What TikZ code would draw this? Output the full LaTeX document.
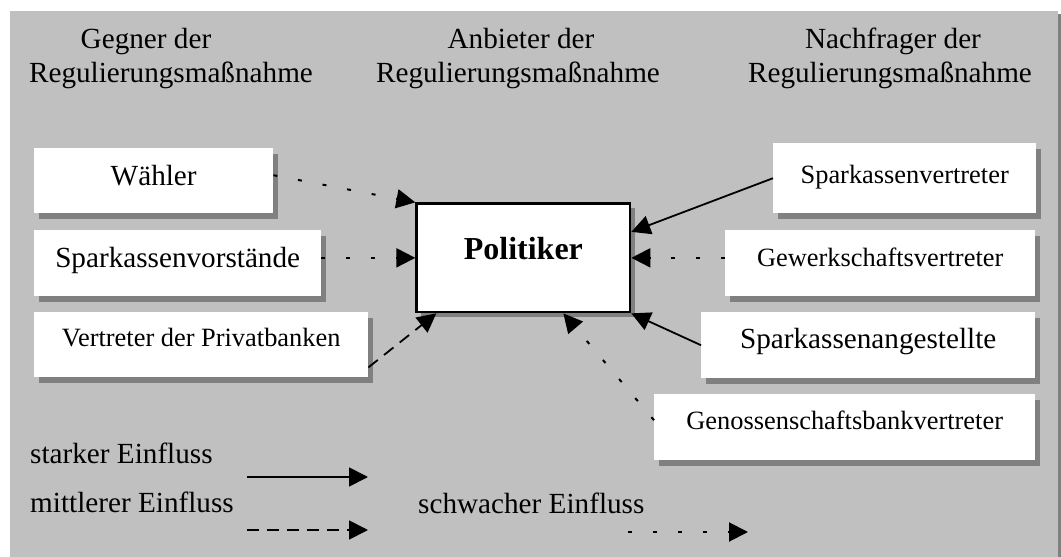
\documentclass[tikz,border=0pt]{standalone}
\usepackage{fontspec}
\setmainfont{Liberation Serif}
\usetikzlibrary{arrows.meta,shadows}
\definecolor{panelgray}{HTML}{C0C0C0}
\definecolor{shadegray}{HTML}{808080}
\newcommand\fsBig{\fontsize{29.2pt}{34pt}\selectfont}
\newcommand\fsSmall{\fontsize{26.4pt}{31pt}\selectfont}
\newcommand\fsBold{\fontsize{32pt}{38pt}\selectfont\bfseries}

\begin{document}
\begin{tikzpicture}[x=1pt,y=-1pt,
  box/.style={anchor=north west, fill=white, inner sep=0pt, align=center,
    drop shadow={shadow xshift=5pt, shadow yshift=-6pt, fill=shadegray, opacity=1}},
  centerbox/.style={anchor=north west, fill=white, draw=black, line width=2.7pt,
    inner sep=0pt, align=center, font=\fsBold,
    drop shadow={shadow xshift=4.5pt, shadow yshift=-4.5pt, fill=shadegray, opacity=1}},
  lbl/.style={inner sep=0pt, font=\fsBig},
  tipshape/.style={-{Triangle[length=19pt,width=19pt]}},
  strong/.style={tipshape, line width=1.8pt},
  medium/.style={tipshape, line width=1.8pt, dash pattern=on 12pt off 8pt},
  weak/.style={tipshape, line width=2pt, dash pattern=on 4pt off 21pt}]

\useasboundingbox (0,0) rectangle (1061,557);

% panel with its thin shadow edge
\fill[shadegray] (13,14) rectangle (1061,560);
\fill[panelgray] (10,11) rectangle (1058,557);

% column headings
\node[lbl, anchor=base] (hdG1) at (146,48) {Gegner der};
\node[lbl, anchor=base] (hdG2) at (171,82) {Regulierungsmaßnahme};
\node[lbl, anchor=base] (hdA1) at (521,48) {Anbieter der};
\node[lbl, anchor=base] (hdA2) at (518,82) {Regulierungsmaßnahme};
\node[lbl, anchor=base] (hdN1) at (893,48) {Nachfrager der};
\node[lbl, anchor=base] (hdN2) at (890,82) {Regulierungsmaßnahme};

% opponents
\node[box, font=\fsBig, minimum width=239pt, text height=37pt, text depth=28pt]
  (waehler) at (34,148) {Wähler};
\node[box, font=\fsBig, minimum width=287pt, text height=37pt, text depth=29pt]
  (vorst) at (34,230) {Sparkassenvorstände};
\node[box, font=\fsSmall, minimum width=334pt, text height=34pt, text depth=31pt]
  (privat) at (34,312) {Vertreter der Privatbanken};

% supplier
\node[centerbox, minimum width=213.3pt, text height=55.65pt, text depth=52.65pt]
  (pol) at (415.35,202.35) {Politiker};

% demanders
\node[box, font=\fsSmall, minimum width=263pt, text height=40pt, text depth=30pt]
  (spvert) at (773,143) {Sparkassenvertreter};
\node[box, font=\fsSmall, minimum width=310pt, text height=36pt, text depth=30pt]
  (gewerk) at (725,230) {Gewerkschaftsvertreter};
\node[box, font=\fsBig, minimum width=334pt, text height=36pt, text depth=30pt]
  (angest) at (701,312) {Sparkassenangestellte};
\node[box, font=\fsSmall, minimum width=381pt, text height=35pt, text depth=31pt]
  (genoss) at (654,394) {Genossenschaftsbankvertreter};

% influence connectors
\draw[weak] ([yshift=5.5pt]waehler.east) -- (pol.north west);
\draw[weak] (vorst.east |- pol.west) -- (pol.west);
\draw[medium] ([yshift=10pt]privat.south east) -- ([xshift=21pt]pol.south west);
\draw[strong] (spvert.west) -- ([yshift=26pt]pol.east);
\draw[weak] (gewerk.west |- pol.east) -- (pol.east);
\draw[strong] (angest.west) -- (pol.south east);
\draw[weak] ([yshift=7pt]genoss.west) -- ([xshift=40pt]pol.south);

% legend
\node[lbl, anchor=base west] (lgStrong) at (30,463) {starker Einfluss};
\node[lbl, anchor=base west] (lgMid) at (30,512) {mittlerer Einfluss};
\node[lbl, anchor=base west] (lgWeak) at (418,513) {schwacher Einfluss};
\coordinate (lgS0) at (247,477);
\coordinate (lgS1) at (368,477);
\coordinate (lgM0) at (247,530);
\coordinate (lgM1) at (368,530);
\coordinate (lgW0) at (628,532);
\coordinate (lgW1) at (748,532);
\draw[strong] (lgS0) -- (lgS1);
\draw[medium] (lgM0) -- (lgM1);
\draw[weak] (lgW0) -- (lgW1);

\end{tikzpicture}
\end{document}
